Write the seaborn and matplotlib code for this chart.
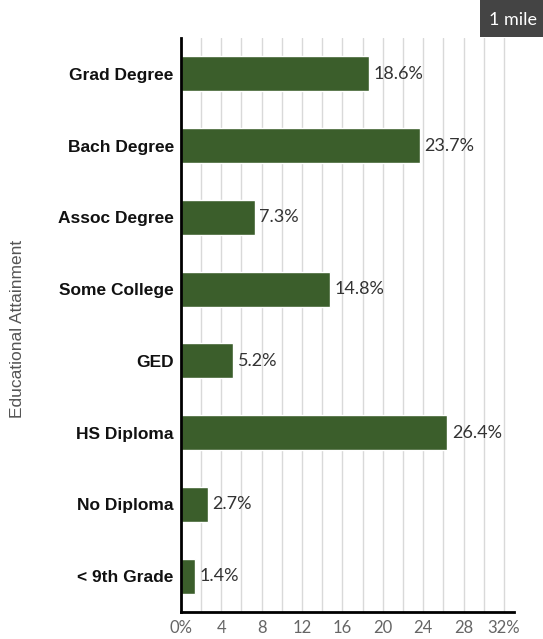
import matplotlib
matplotlib.use("Agg")
import matplotlib.pyplot as plt
from matplotlib.patches import Rectangle
import seaborn as sns
import pandas as pd
import numpy as np

categories = ["Grad Degree", "Bach Degree", "Assoc Degree", "Some College", "GED",
              "HS Diploma", "No Diploma", "< 9th Grade"]
values = [18.6, 23.7, 7.3, 14.8, 5.2, 26.4, 2.7, 1.4]
xticks = [0, 4, 8, 12, 16, 20, 24, 28, 32]
xticklabels = ["0%", "4", "8", "12", "16", "20", "24", "28", "32%"]

sns.set_theme(style="white")
plt.rcParams['font.family'] = ['Liberation Sans', 'DejaVu Sans']

df = pd.DataFrame({"cat": categories, "val": values})

fig = plt.figure(figsize=(5.43, 6.39), dpi=100)
ax = fig.add_axes([0.333, 0.0423, 0.6136, 0.8982])

sns.barplot(data=df, x="val", y="cat", orient="h", color="#3b5e2b",
            width=0.49, saturation=1, ax=ax, zorder=3)

ax.set_xlim(0, 33)
ax.set_ylim(7.5, -0.5)
for g in range(2, 33, 2):
    ax.axvline(g, color="#d9d9d9", lw=1, zorder=1)

ax.set_xticks(xticks)
ax.set_xticklabels(xticklabels, color="#666666", fontsize=12, family="Lato")
ax.tick_params(axis="x", length=0, pad=6)
ax.tick_params(axis="y", length=0, pad=5)
for lab in ax.get_yticklabels():
    lab.set_fontsize(12.5)
    lab.set_color("#111111")
    lab.set_fontweight("bold")

for i, v in enumerate(values):
    ax.text(v + 0.45, i, f"{v}%", va="center", ha="left", fontsize=13,
            color="#333333", family="Lato", zorder=4)

for s in ["top", "right"]:
    ax.spines[s].set_visible(False)
for s in ["left", "bottom"]:
    ax.spines[s].set_color("black")
    ax.spines[s].set_linewidth(2)
    ax.spines[s].set_zorder(5)

ax.set_xlabel("")
ax.set_ylabel("")
fig.text(0.033, 0.485, "Educational Attainment", rotation=90, va="center", ha="center",
         fontsize=12.5, color="#555555")

fig.patches.append(Rectangle((480 / 543, 1 - 37 / 639), 63 / 543, 37 / 639,
                             transform=fig.transFigure, fc="#444444", ec="none"))
fig.text(513 / 543, 1 - 20 / 639, "1 mile", ha="center", va="center", fontsize=13,
         color="white", family="Lato")

fig.savefig("out.png", dpi=100)
